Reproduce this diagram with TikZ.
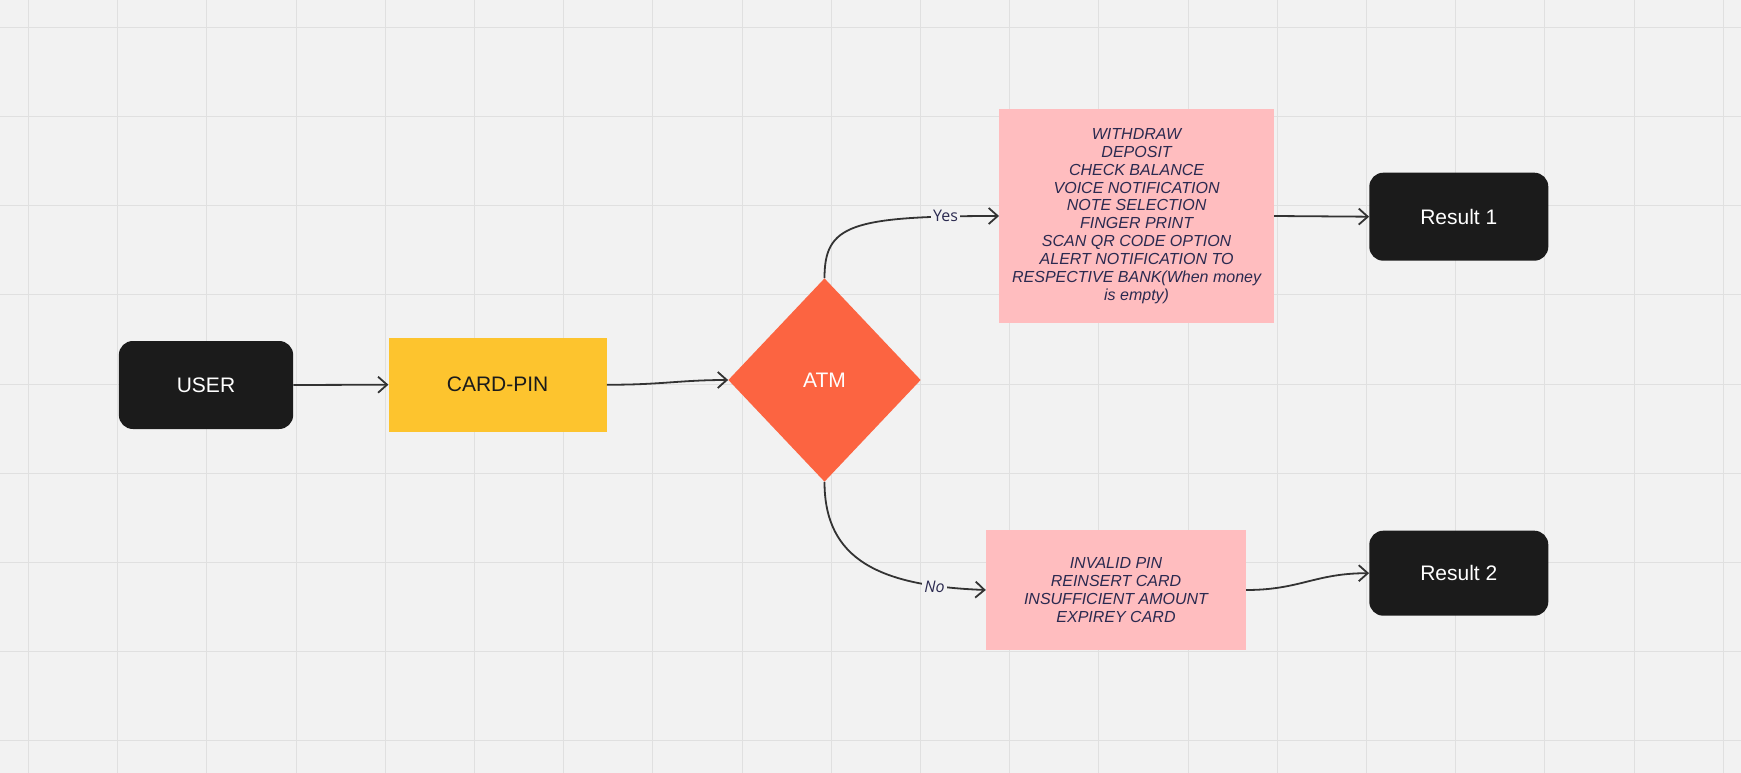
\documentclass[tikz,border=0pt]{standalone}
\usepackage{fontspec}
\setmainfont{Liberation Sans}
\newfontfamily\lblfont{Open Sans}
\usetikzlibrary{shapes.geometric,arrows.meta}
\definecolor{bgc}{HTML}{F2F2F2}
\definecolor{gridc}{HTML}{E0E0E0}
\definecolor{boxc}{HTML}{1B1B1B}
\definecolor{cardc}{HTML}{FDC42E}
\definecolor{atmc}{HTML}{FC6441}
\definecolor{pinkc}{HTML}{FFBDBF}
\definecolor{navy}{HTML}{2B2A50}
\definecolor{linec}{HTML}{333333}
\begin{document}
\begin{tikzpicture}[x=1pt,y=-1pt,
  darkbox/.style={rectangle, rounded corners=14pt, fill=boxc, text=white,
    font=\fontsize{21}{25}\selectfont, inner sep=0pt},
  cardbox/.style={rectangle, fill=cardc, text=boxc,
    font=\fontsize{21}{25}\selectfont, inner sep=0pt,
    minimum width=218pt, minimum height=94.4pt},
  atmbox/.style={diamond, aspect=0.946, fill=atmc, text=white,
    font=\fontsize{21}{25}\selectfont, inner sep=0pt,
    minimum width=192.4pt, minimum height=203.4pt},
  pinkbox/.style={rectangle, fill=pinkc, text=navy, align=center,
    font=\fontsize{16}{17.85}\selectfont\itshape, inner sep=0pt},
  conn/.style={draw=linec, line width=1.8pt, -{Straight Barb[length=9pt,width=16pt]}},
  lbl/.style={fill=bgc, text=navy, inner sep=2pt, font=\lblfont\fontsize{16}{18}\selectfont}
]
\useasboundingbox (0,0) rectangle (1741,773);
\fill[bgc] (0,0) rectangle (1741,773);
\foreach \i in {0,...,19} \draw[gridc, line width=1pt] ({28.5+89.2*\i},0) -- ({28.5+89.2*\i},773);
\foreach \j in {0,...,8} \draw[gridc, line width=1pt] (0,{27.5+89.15*\j}) -- (1741,{27.5+89.15*\j});

\node[darkbox, minimum width=174.3pt, minimum height=88pt] (user) at (206,385) {USER};
\node[cardbox] (card) at (497.6,384.7) {CARD-PIN};
\node[atmbox] (atm) at (824.5,380) {ATM};
\node[pinkbox, minimum width=274.7pt, minimum height=214.2pt] (ops) at (1136.6,216)
  {WITHDRAW\\DEPOSIT\\CHECK BALANCE\\VOICE NOTIFICATION\\NOTE SELECTION\\FINGER PRINT\\SCAN QR CODE OPTION\\ALERT NOTIFICATION TO\\RESPECTIVE BANK(When money\\is empty)};
\node[pinkbox, minimum width=260pt, minimum height=120pt] (errs) at (1116,590)
  {INVALID PIN\\REINSERT CARD\\INSUFFICIENT AMOUNT\\EXPIREY CARD};
\node[darkbox, minimum width=179pt, minimum height=88pt] (res1) at (1458.8,216.7) {Result 1};
\node[darkbox, minimum width=179pt, minimum height=85pt] (res2) at (1458.8,573.2) {Result 2};

\draw[conn] (user.east) -- (card.west);
\draw[conn] (card.east) .. controls (660,385) and (680,380) .. (atm.west);
\draw[conn] (atm.north) .. controls (824.5,225) and (850,216) .. (ops.west);
\draw[conn] (atm.south) .. controls (824.5,560) and (880,586) .. (errs.west);
\draw[conn] (ops.east) -- (res1.west);
\draw[conn] (errs.east) .. controls (1300,590) and (1315,573.2) .. (res2.west);

\node[lbl] (yes) at (945.5,216) {Yes};
\node[lbl] (no) at (934.5,587) {\itshape No};
\end{tikzpicture}
\end{document}
